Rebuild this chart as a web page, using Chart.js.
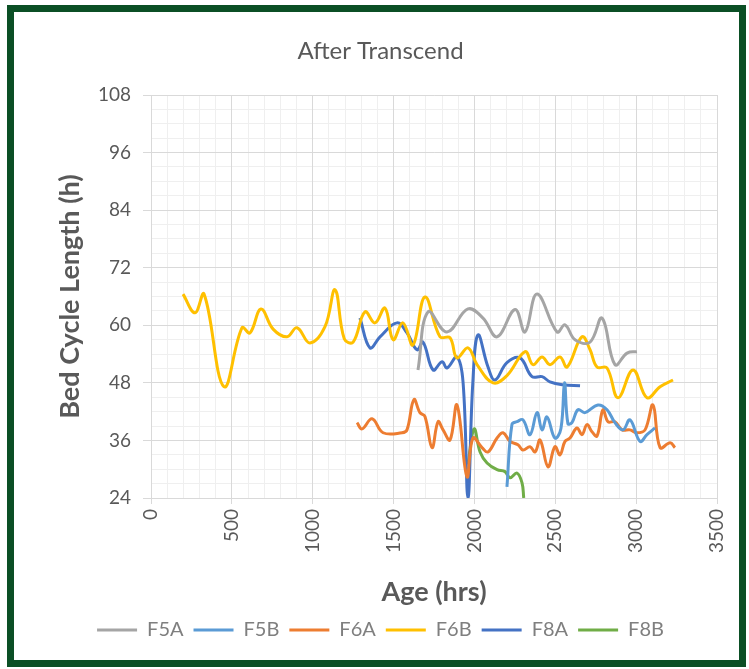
<!DOCTYPE html>
<html><head><meta charset="utf-8">
<script src="https://cdn.jsdelivr.net/npm/chart.js@4"></script>
<style>
html,body{margin:0;padding:0;background:#fff;}
#wrap{position:relative;width:749px;height:669px;overflow:hidden;background:#fff;}
#frame{position:absolute;left:7px;top:5px;width:739px;height:662px;box-sizing:border-box;border:7px solid #0b4f25;}
canvas{position:absolute;left:0;top:0;}
</style></head><body>
<div id="wrap"><div id="frame"></div><canvas id="c" width="749" height="669"></canvas></div>
<script>
// ---- data ----
const seriesNames = ["F5A", "F5B", "F6A", "F6B", "F8A", "F8B"];
const seriesColors = ["#a5a5a5", "#5b9bd5", "#ed7d31", "#ffc000", "#4472c4", "#70ad47"];

const f5aX = [1651, 1713, 1830, 1960, 2053, 2140, 2251, 2313, 2387, 2511, 2560, 2622, 2715, 2789, 2869, 2944, 3005];
const f5aY = [50.7, 62.8, 58.6, 63.4, 61.5, 57.6, 63.3, 58.6, 66.5, 58.6, 60.1, 57.0, 56.5, 61.5, 51.8, 54.2, 54.5];

const f5bX = [2201, 2232, 2263, 2300, 2344, 2387, 2418, 2449, 2498, 2535, 2557, 2578, 2603, 2640, 2684, 2764, 2820, 2869, 2919, 2962, 3024, 3067, 3117];
const f5bY = [26.3, 39.3, 39.9, 40.3, 37.2, 41.8, 38.2, 40.9, 36.5, 38.5, 48.0, 39.5, 39.7, 42.4, 41.8, 43.4, 42.4, 39.7, 38.2, 40.3, 35.8, 37.2, 38.6];

const f6aX = [1274, 1305, 1367, 1435, 1552, 1583, 1626, 1663, 1694, 1738, 1775, 1806, 1849, 1892, 1954, 1991, 2047, 2084, 2140, 2177, 2220, 2269, 2300, 2344, 2375, 2406, 2455, 2498, 2529, 2560, 2591, 2634, 2665, 2696, 2727, 2758, 2795, 2826, 2869, 2913, 2962, 3005, 3055, 3104, 3148, 3210, 3240];
const f6aY = [39.7, 38.4, 40.5, 37.6, 37.6, 38.2, 44.5, 41.8, 41.0, 34.5, 39.9, 38.2, 36.1, 43.4, 28.4, 36.5, 34.5, 33.6, 36.5, 37.6, 35.8, 35.1, 34.0, 34.7, 33.6, 36.1, 30.5, 34.7, 33.0, 35.8, 36.5, 38.6, 37.2, 39.3, 37.8, 36.9, 42.4, 39.9, 39.9, 38.2, 38.2, 37.6, 38.2, 43.4, 34.5, 35.5, 34.5];

const f6bX = [198, 272, 328, 451, 563, 612, 680, 755, 841, 903, 983, 1076, 1138, 1195, 1250, 1323, 1385, 1447, 1497, 1558, 1620, 1694, 1787, 1849, 1892, 1960, 2016, 2115, 2201, 2313, 2362, 2418, 2467, 2529, 2573, 2665, 2715, 2758, 2820, 2888, 2981, 3067, 3148, 3228];
const f6bY = [66.5, 62.6, 66.5, 47.2, 59.5, 58.4, 63.4, 59.2, 57.6, 59.5, 56.3, 59.7, 67.4, 57.2, 56.5, 62.8, 60.5, 63.6, 57.0, 60.5, 55.9, 65.9, 57.6, 57.4, 53.2, 55.3, 51.8, 48.0, 49.5, 54.5, 51.8, 53.4, 51.8, 53.4, 51.3, 57.6, 54.9, 51.3, 51.1, 44.9, 50.7, 44.9, 47.2, 48.6];

const f8aX = [1292, 1354, 1416, 1521, 1583, 1645, 1682, 1744, 1800, 1830, 1892, 1930, 1960, 1990, 2022, 2084, 2127, 2201, 2282, 2356, 2418, 2467, 2548, 2653];
const f8aY = [61.5, 55.3, 57.6, 60.5, 58.4, 54.9, 56.5, 50.7, 52.4, 51.1, 53.4, 48.0, 24.0, 48.0, 58.0, 51.3, 48.6, 52.2, 53.2, 49.3, 49.3, 48.2, 47.6, 47.4];

const f8bX = [1960, 1998, 2035, 2078, 2140, 2189, 2220, 2263, 2294, 2305];
const f8bY = [31.0, 38.4, 33.6, 31.3, 29.9, 29.5, 28.2, 29.2, 27.2, 24.0];

const xTickStep = 500, yTickStep = 12;
const xMin = 0, xMax = 3500, yMin = 24, yMax = 108;

const allX = [f5aX, f5bX, f6aX, f6bX, f8aX, f8bX];
const allY = [f5aY, f5bY, f6aY, f6bY, f8aY, f8bY];

Chart.defaults.font.family = 'Lato, "Open Sans", sans-serif';

const datasets = seriesNames.map((name, i) => ({
  label: name,
  data: allX[i].map((x, j) => ({x: x, y: allY[i][j]})),
  borderColor: seriesColors[i],
  backgroundColor: seriesColors[i],
  borderWidth: 3,
  pointRadius: 0,
  tension: 0.4,
  xAxisID: 'x',
  yAxisID: 'y'
}));

new Chart(document.getElementById('c'), {
  type: 'line',
  data: { datasets: datasets },
  options: {
    responsive: false,
    animation: false,
    devicePixelRatio: 1,
    layout: { padding: { left: 44, right: 32, top: 0, bottom: 19 } },
    plugins: {
      title: {
        display: true,
        text: 'After Transcend',
        color: '#595959',
        font: { size: 24, weight: 'normal' },
        padding: { top: 36.6, bottom: 29.6 }
      },
      legend: {
        position: 'bottom',
        labels: {
          usePointStyle: true,
          pointStyle: 'line',
          pointStyleWidth: 40,
          color: '#7f7f7f',
          font: { size: 20 },
          padding: 10
        }
      },
      tooltip: { enabled: false }
    },
    scales: {
      xm: {
        type: 'linear', position: 'bottom', min: xMin, max: xMax, z: -1,
        ticks: { display: false, stepSize: 100, maxTicksLimit: 100 },
        grid: { color: '#efefef', drawTicks: false },
        border: { display: false },
        afterFit: s => { s.height = 0; s.paddingLeft = 0; s.paddingRight = 0; }
      },
      ym: {
        type: 'linear', position: 'left', min: yMin, max: yMax, z: -1,
        ticks: { display: false, stepSize: 3, maxTicksLimit: 100 },
        grid: { color: '#efefef', drawTicks: false },
        border: { display: false },
        afterFit: s => { s.width = 0; s.paddingTop = 0; s.paddingBottom = 0; }
      },
      x: {
        type: 'linear', position: 'bottom', min: xMin, max: xMax,
        ticks: { stepSize: xTickStep, minRotation: 90, maxRotation: 90, color: '#595959', font: { size: 19 }, padding: 5,
                 callback: v => String(v) },
        grid: { color: '#d9d9d9', tickLength: 6 },
        border: { color: '#d9d9d9' },
        title: { display: true, text: 'Age (hrs)', color: '#595959', font: { size: 27, weight: 'bold' }, padding: { top: 0, bottom: 1.8 } },
        afterFit: s => { s.height = 112; s.paddingLeft = 0; s.paddingRight = 0; }
      },
      y: {
        type: 'linear', position: 'left', min: yMin, max: yMax,
        ticks: { stepSize: yTickStep, color: '#595959', font: { size: 19 }, padding: 12, callback: v => String(v) },
        grid: { color: '#d9d9d9', tickLength: 8 },
        border: { color: '#d9d9d9' },
        title: { display: true, text: 'Bed Cycle Length (h)', color: '#595959', font: { size: 27, weight: 'bold' }, padding: { top: 9.8, bottom: 0 } },
        afterFit: s => { s.width = 107; s.paddingTop = 0; s.paddingBottom = 0; }
      }
    }
  }
});
</script>
</body></html>
